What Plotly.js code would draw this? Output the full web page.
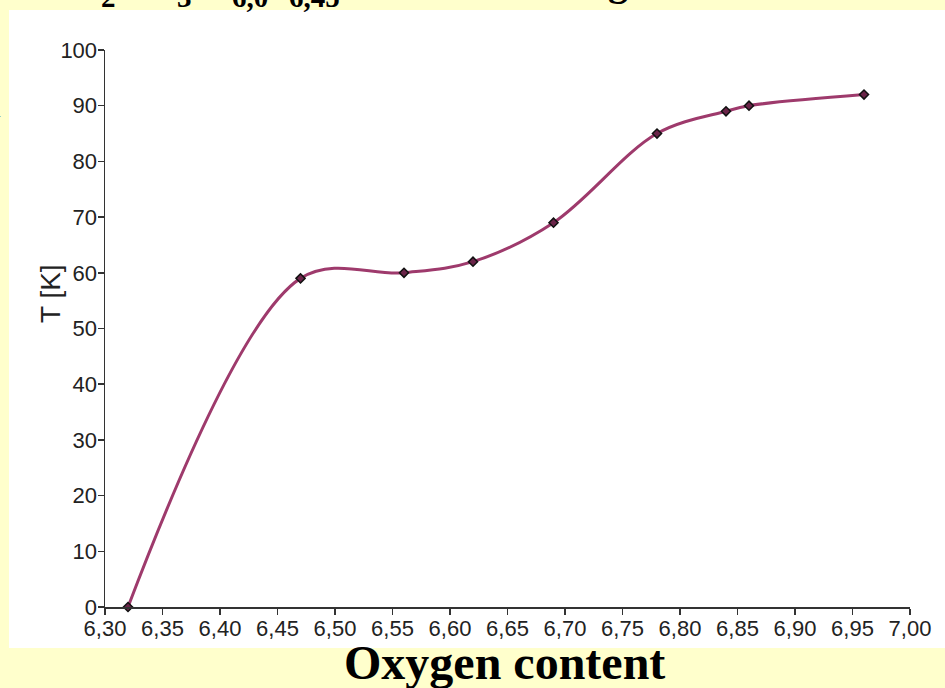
<!DOCTYPE html>
<html>
<head>
<meta charset="utf-8">
<script src="https://cdn.plot.ly/plotly-3.0.1.min.js"></script>
<style>
html,body{margin:0;padding:0;background:#FFFFCC;}
#chart{width:945px;height:688px;}
</style>
</head>
<body>
<div id="chart"></div>
<script>
// Data
var oxygenContent = [6.32, 6.47, 6.56, 6.62, 6.69, 6.78, 6.84, 6.86, 6.96];
var temperatureK = [0, 59, 60, 62, 69, 85, 89, 90, 92];
var yTickValues = [0, 10, 20, 30, 40, 50, 60, 70, 80, 90, 100];
var xTitle = 'Oxygen content';
var yTitle = 'T [K]';
// clipped heading fragments visible at the very top / left edge
var headingFragments = ['2', '3', '6,0', '6,45', 'g'];
var sideFragment = '1';

var W = 945, H = 688;
var L = 105, R = 35, T = 50, B = 81;
var pw = W - L - R, ph = H - T - B;
function px(x){ return (x - L) / pw; }
function py(y){ return (H - B - y) / ph; }

var trace = {
  x: oxygenContent,
  y: temperatureK,
  type: 'scatter',
  mode: 'lines+markers',
  line: {color: '#9E3A6C', width: 3, shape: 'spline', smoothing: 1},
  marker: {symbol: 'diamond', size: 7, color: '#6a2448', line: {color: '#111', width: 1.5}},
  cliponaxis: false,
  hoverinfo: 'skip'
};

var fragX = [108, 184, 250, 314, 618];
var fragSize = [29, 29, 29, 29, 40];
var fragBottom = [15, 15, 15, 15, 6];
var annotations = headingFragments.map(function(t, i){
  return {
    text: '<b>' + t + '</b>', xref: 'paper', yref: 'paper',
    x: px(fragX[i]), y: py(fragBottom[i]), xanchor: 'center', yanchor: 'bottom',
    showarrow: false, font: {family: 'Liberation Serif', size: fragSize[i], color: '#000'}
  };
});
annotations.push({
  text: sideFragment, xref: 'paper', yref: 'paper',
  x: px(4), y: py(106), xanchor: 'right', yanchor: 'middle', showarrow: false,
  font: {family: 'Liberation Serif', size: 30, color: '#000'}
});
annotations.push({
  text: '<b>' + xTitle + '</b>', xref: 'paper', yref: 'paper',
  x: px(504), y: py(662), xanchor: 'center', yanchor: 'middle', showarrow: false,
  font: {family: 'Liberation Serif', size: 48, color: '#000'}
});
annotations.push({
  text: yTitle, xref: 'paper', yref: 'paper', textangle: -90,
  x: px(50), y: py(294), xanchor: 'center', yanchor: 'middle', showarrow: false,
  font: {family: 'Liberation Sans, Arial, sans-serif', size: 28, color: '#222'}
});

var layout = {
  width: W, height: H,
  margin: {l: L, r: R, t: T, b: B, pad: 0},
  paper_bgcolor: '#FFFFCC',
  plot_bgcolor: 'rgba(0,0,0,0)',
  separators: ', ',
  showlegend: false,
  hovermode: false,
  font: {family: 'Liberation Sans, Arial, sans-serif', size: 22, color: '#222'},
  xaxis: {
    range: [6.30, 7.00], tick0: 6.30, dtick: 0.05, tickformat: '.2f',
    showgrid: false, zeroline: false, showline: true, linecolor: '#333', linewidth: 1.5,
    ticks: 'outside', ticklen: 6, tickwidth: 1.5, tickcolor: '#333',
    ticklabelstandoff: -5,
    tickfont: {size: 22, color: '#222'}, fixedrange: true
  },
  yaxis: {
    range: [0, 100], tickmode: 'array', tickvals: yTickValues,
    showgrid: false, zeroline: false, showline: true, linecolor: '#333', linewidth: 1.5,
    ticks: 'outside', ticklen: 6, tickwidth: 1.5, tickcolor: '#333',
    ticklabelstandoff: -4,
    tickfont: {size: 22, color: '#222'}, fixedrange: true
  },
  shapes: [{
    type: 'rect', xref: 'paper', yref: 'paper', layer: 'below',
    x0: px(9), x1: px(960), y0: py(648), y1: py(10),
    fillcolor: '#FFFFFF', line: {width: 0}
  }],
  annotations: annotations
};

Plotly.newPlot('chart', [trace], layout, {displayModeBar: false, staticPlot: true});
</script>
</body>
</html>
